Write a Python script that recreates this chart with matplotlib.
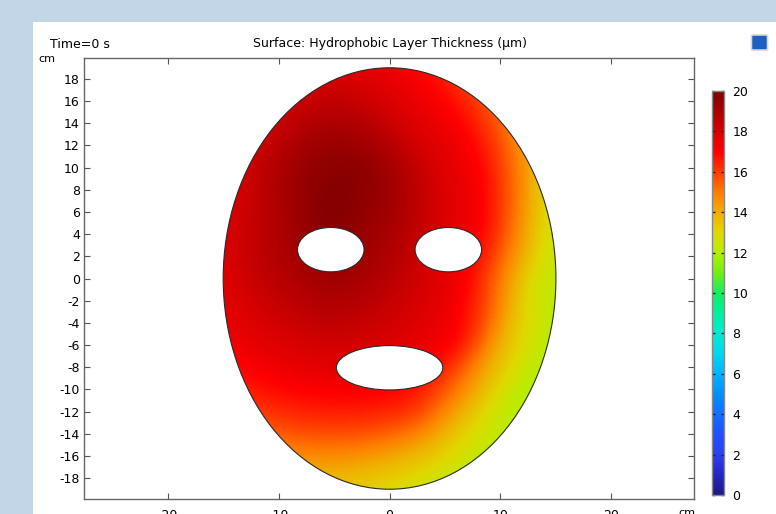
import numpy as np
import matplotlib
matplotlib.use("Agg")
import matplotlib.pyplot as plt
from matplotlib.colors import LinearSegmentedColormap
from matplotlib.patches import Ellipse, Rectangle, FancyBboxPatch

plt.rcParams['axes.unicode_minus'] = False

# colour scale (value -> colour)
cbar_values = [0, 1, 2, 3, 4, 5, 6, 7, 8, 9, 10, 11, 12, 13, 14, 15, 16, 17, 18, 19, 20]
cbar_colors = ['#1c1a84', '#2626c8', '#2c40f0', '#2050ff', '#1070ff', '#0090ff',
               '#00b4ff', '#00d8f0', '#00ecd0', '#00f0a0', '#10f060', '#70f010',
               '#b4f000', '#e0d800', '#f0b000', '#ff7c00', '#ff3c00', '#ff0000',
               '#d80000', '#aa0000', '#800000']
cbar_ticks = [0, 2, 4, 6, 8, 10, 12, 14, 16, 18, 20]

# thickness (um) read along rays from the thickest spot, radius in cm
peak_x, peak_y = -5.5, 6.5
ray_angles = [0, 45, 90, 135, 180, 225, 270, 292.5, 315, 337.5]
ray_radii = [0, 5, 10, 14, 17, 20, 24, 28, 34]
ray_0 = [20, 19.3, 18.0, 17.1, 15.0, 12.6, 12.0, 11.8, 11.8]
ray_45 = [20, 19.6, 18.0, 17.0, 16.0, 14.5, 12.5, 12.0, 11.8]
ray_90 = [20, 19.5, 18.4, 17.6, 17.0, 16.0, 14.0, 12.5, 12.0]
ray_135 = [20, 19.1, 17.8, 17.0, 16.2, 15.0, 13.5, 12.5, 12.0]
ray_180 = [20, 18.7, 17.7, 17.0, 16.2, 15.0, 13.5, 12.5, 12.0]
ray_225 = [20, 19.0, 18.2, 17.5, 16.8, 16.0, 14.5, 13.0, 12.0]
ray_270 = [20, 19.5, 18.6, 17.8, 17.0, 16.0, 14.0, 12.5, 12.0]
ray_293 = [20, 19.4, 18.5, 17.8, 17.2, 16.2, 13.6, 11.9, 11.8]
ray_315 = [20, 19.2, 18.3, 17.6, 16.9, 14.3, 12.0, 11.8, 11.8]
ray_338 = [20, 19.2, 18.0, 17.0, 14.8, 12.5, 11.8, 11.8, 11.8]

# geometry (cm): face outline and holes (center x, center y, width, height)
face = (0, 0, 30, 38)
holes = [(-5.3, 2.6, 6.0, 4.0), (5.3, 2.6, 6.0, 4.0), (0, -8.05, 9.6, 4.0)]

yticks = list(range(-18, 19, 2))
xticks = [-20, -10, 0, 10, 20]

cmap = LinearSegmentedColormap.from_list(
    'comsol_rainbow', [(v / 20, c) for v, c in zip(cbar_values, cbar_colors)])

# build the field from the ray readings (linear in radius and in angle)
profiles = np.array([ray_0, ray_45, ray_90, ray_135, ray_180, ray_225,
                     ray_270, ray_293, ray_315, ray_338, ray_0])
angles = np.array(ray_angles + [360.0])
xs = np.linspace(-15.2, 15.2, 305)
ys = np.linspace(-19.2, 19.2, 385)
X, Y = np.meshgrid(xs, ys)
R = np.hypot(X - peak_x, Y - peak_y)
T = np.degrees(np.arctan2(Y - peak_y, X - peak_x)) % 360
vals = np.array([np.interp(R, ray_radii, p) for p in profiles])
i1 = np.clip(np.searchsorted(angles, T, side='right'), 1, len(angles) - 1)
i0 = i1 - 1
w = (T - angles[i0]) / (angles[i1] - angles[i0])
jj = np.arange(len(ys))[:, None]
kk = np.arange(len(xs))[None, :]
Z = (1 - w) * vals[i0, jj, kk] + w * vals[i1, jj, kk]

# soften the creases left by the angular interpolation (gaussian, ~1 cm)
sig = 10
kern = np.exp(-0.5 * (np.arange(-3 * sig, 3 * sig + 1) / sig) ** 2)
kern /= kern.sum()
Zp = np.pad(Z, 3 * sig, mode='edge')
Zp = np.apply_along_axis(lambda m: np.convolve(m, kern, mode='valid'), 0, Zp)
Z = np.apply_along_axis(lambda m: np.convolve(m, kern, mode='valid'), 1, Zp)

fig = plt.figure(figsize=(7.76, 5.14), dpi=100)
fig.patch.set_facecolor('white')

# window background
fig.patches.append(Rectangle((0, 1 - 22 / 514), 1, 22 / 514, transform=fig.transFigure,
                             facecolor='#c3d6e8', edgecolor='none', zorder=0))
fig.patches.append(Rectangle((0, 0), 33 / 776, 1, transform=fig.transFigure,
                             facecolor='#c3d6e8', edgecolor='none', zorder=0))
fig.patches.append(FancyBboxPatch((753 / 776, 1 - 49 / 514), 13 / 776, 13 / 514,
                                  boxstyle='round,pad=0.002', transform=fig.transFigure,
                                  facecolor='#1f5fbf', edgecolor='#d8d8d8', lw=1.2, zorder=1))

ax = fig.add_axes([84 / 776, 1 - 500 / 514, 610 / 776, 443 / 514])
im = ax.imshow(Z, extent=[xs[0], xs[-1], ys[0], ys[-1]], origin='lower',
               cmap=cmap, vmin=0, vmax=20, interpolation='bilinear', zorder=1)
outline = Ellipse((face[0], face[1]), face[2], face[3], facecolor='none',
                  edgecolor='#2a2a2a', lw=0.8, zorder=3)
ax.add_patch(outline)
im.set_clip_path(outline)
for hx, hy, hw, hh in holes:
    ax.add_patch(Ellipse((hx, hy), hw, hh, facecolor='white', edgecolor='#2a2a2a',
                         lw=0.8, zorder=2))

ax.set_xlim(-27.55, 27.45)
ax.set_ylim(-19.9, 19.9)
ax.set_xticks(xticks)
ax.set_yticks(yticks)
ax.tick_params(direction='in', length=4, width=0.8, color='#555555', labelsize=9,
               top=True, right=True, pad=3)
ax.tick_params(axis='x', pad=7)
for s in ax.spines.values():
    s.set_color('#666666')
    s.set_linewidth(1.0)

fig.text(390 / 776, 1 - 44 / 514, 'Surface: Hydrophobic Layer Thickness (µm)',
         ha='center', va='center', fontsize=9)
fig.text(50 / 776, 1 - 44 / 514, 'Time=0 s', ha='left', va='center', fontsize=9)
fig.text(38 / 776, 1 - 59 / 514, 'cm', ha='left', va='center', fontsize=8)
fig.text(678 / 776, 1 - 513 / 514, 'cm', ha='left', va='center', fontsize=8)

cax = fig.add_axes([712 / 776, 1 - 495 / 514, 12 / 776, 404 / 514])
cb = fig.colorbar(im, cax=cax, ticks=cbar_ticks)
cb.outline.set_edgecolor('#888888')
cb.outline.set_linewidth(1.0)
cax.tick_params(direction='in', length=2, width=1, color='#222222', labelsize=9,
                left=True, right=True, pad=6)

fig.savefig('out.png', dpi=100)
